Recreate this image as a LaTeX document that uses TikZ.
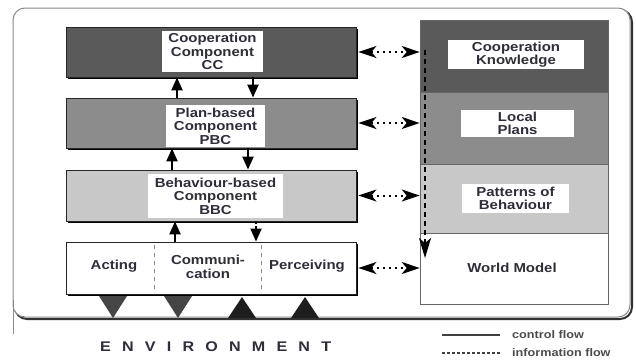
\documentclass[tikz,border=0pt]{standalone}
\usepackage{fontspec}
\setmainfont{Liberation Sans}[FakeStretch=1.15]
\usetikzlibrary{arrows.meta,shadows}

\definecolor{darkblk}{HTML}{5A5A5A}
\definecolor{midblk}{HTML}{8C8C8C}
\definecolor{lightblk}{HTML}{C8C8C8}
\definecolor{txt}{HTML}{2E2E3A}
\definecolor{framegray}{HTML}{8A8A8A}
\definecolor{trigdown}{HTML}{454545}
\definecolor{trigup}{HTML}{1E1E1E}

\newcommand\lblfont{\fontsize{13}{13.5}\selectfont\bfseries}
\newcommand\legfont{\fontsize{11}{12}\selectfont\bfseries}

\begin{document}
\begin{tikzpicture}[x=1pt,y=-1pt,
  block/.style={draw=black!85, line width=0.8pt, inner sep=0pt, minimum width=290pt,
    drop shadow={shadow xshift=2.2pt, shadow yshift=-2.2pt, fill=black, opacity=1}},
  lbl/.style={fill=white, inner sep=0pt, align=center, font=\lblfont, text=txt},
  plain/.style={inner sep=0pt, align=center, font=\lblfont, text=txt},
  section/.style={draw=black!60, line width=0.6pt, inner sep=0pt, minimum width=188pt},
  ctrl/.style={line width=2.2pt, black, -{Triangle[length=13pt,width=11pt]}},
  ctrldash/.style={ctrl, line width=1.8pt, dash pattern=on 3pt off 2pt},
  info/.style={line width=2pt, black, dash pattern=on 2.5pt off 3.5pt,
    {Stealth[length=18pt,width=12pt,inset=5pt]}-{Stealth[length=18pt,width=12pt,inset=5pt]}},
  infodown/.style={line width=1.8pt, black, dash pattern=on 5pt off 4pt,
    -{Stealth[length=20pt,width=12pt,inset=5pt]}},
  sep/.style={line width=1pt, black!45, dash pattern=on 4pt off 4pt},
  legend/.style={inner sep=0pt, anchor=west, font=\legfont, text=black!70}]

\useasboundingbox (0,0) rectangle (636,360);

% outer frame with its shadow
\draw[black!80, line width=2pt, rounded corners=12pt] (15,10) rectangle (632,319);
\draw[framegray, line width=1pt, fill=white, rounded corners=12pt] (13,8) rectangle (630,317);
\draw[framegray, line width=1pt] (13,300) -- (13,334);

% agent layers
\node[block, fill=darkblk,  minimum height=50pt] (cc)  at (211,52)    {};
\node[block, fill=midblk,   minimum height=50pt] (pbc) at (211,123)   {};
\node[block, fill=lightblk, minimum height=51pt] (bbc) at (211,195.5) {};
\node[block, fill=white,    minimum height=52pt] (act) at (211,268)   {};

\node[lbl, minimum width=101pt, minimum height=41pt] (cct)  at (212.5,51.5) {Cooperation\\Component\\CC};
\node[lbl, minimum width=99pt,  minimum height=42pt] (pbct) at (215.5,126)  {Plan-based\\Component\\PBC};
\node[lbl, minimum width=135pt, minimum height=44pt] (bbct) at (215.5,196)  {Behaviour-based\\Component\\BBC};

\node[plain] (acting) at (114,266) {Acting};
\node[plain] (comm)   at (208,267) {Communi-\\cation};
\node[plain] (perc)   at (307,266) {Perceiving};
\draw[sep] ([xshift=-57pt,yshift=-3pt]act.north) -- ([xshift=-57pt,yshift=3pt]act.south);
\draw[sep] ([xshift=50pt,yshift=-3pt]act.north) -- ([xshift=50pt,yshift=3pt]act.south);

% control flow between layers
\draw[ctrl] ([xshift=-34pt]pbc.north) -- ([xshift=-34pt]cc.south);
\draw[ctrl] ([xshift=42pt]cc.south) -- ([xshift=42pt]pbc.north);
\draw[ctrl] ([xshift=-39pt]bbc.north) -- ([xshift=-39pt]pbc.south);
\draw[ctrl] ([xshift=37pt]pbc.south) -- ([xshift=37pt]bbc.north);
\draw[ctrl] ([xshift=-36pt]act.north) -- ([xshift=-36pt]bbc.south);
\draw[ctrldash] ([xshift=45pt]bbc.south) -- ([xshift=45pt]act.north);

% sensors and effectors
\foreach \x in {113,178}
  \fill[trigdown] (\x-14,296) -- (\x+14,296) -- (\x,318) -- cycle;
\foreach \x in {242,305}
  \fill[trigup] (\x-14,318) -- (\x+14,318) -- (\x,297) -- cycle;

% knowledge base
\node[section, fill=darkblk,  minimum height=72pt] (ck)  at (514,56)    {};
\node[section, fill=midblk,   minimum height=72pt] (lp)  at (514,128)   {};
\node[section, fill=lightblk, minimum height=69pt] (pob) at (514,198.5) {};
\node[section, fill=white,    minimum height=71pt] (wm)  at (514,268.5) {};

\node[lbl, minimum width=136pt, minimum height=29pt] (ckt)  at (516,54.5)   {Cooperation\\Knowledge};
\node[lbl, minimum width=113pt, minimum height=27pt] (lpt)  at (517.5,123.5) {Local\\Plans};
\node[lbl, minimum width=107pt, minimum height=29pt] (pobt) at (515.5,198.5) {Patterns of\\Behaviour};
\node[plain] (wmt) at (512,268) {World Model};

% information flow
\draw[info] ([xshift=2pt]cc.east)  -- (cc.east -| ck.west);
\draw[info] ([xshift=2pt]pbc.east) -- (pbc.east -| lp.west);
\draw[info] ([xshift=2pt]bbc.east) -- (bbc.east -| pob.west);
\draw[info] ([xshift=2pt]act.east) -- (act.east -| wm.west);

\coordinate (kbtop) at (425,50);
\coordinate (kbend) at (425,258);
\draw[infodown] (kbtop) -- (kbend);

% environment caption
\node[inner sep=0pt, anchor=west, text=txt,
      font=\fontsize{14}{14}\selectfont\bfseries\addfontfeature{LetterSpace=80}] (env) at (100,347) {ENVIRONMENT};

% legend
\coordinate (ca) at (442,335);
\coordinate (cb) at (500,335);
\coordinate (ia) at (442,353);
\coordinate (ib) at (500,353);
\draw[line width=1.5pt, black!75] (ca) -- (cb);
\draw[line width=1.5pt, black!75, dash pattern=on 2.5pt off 2.5pt] (ia) -- (ib);
\node[legend] (lc) at (512,335) {control flow};
\node[legend] (li) at (512,353) {information flow};
\end{tikzpicture}
\end{document}
